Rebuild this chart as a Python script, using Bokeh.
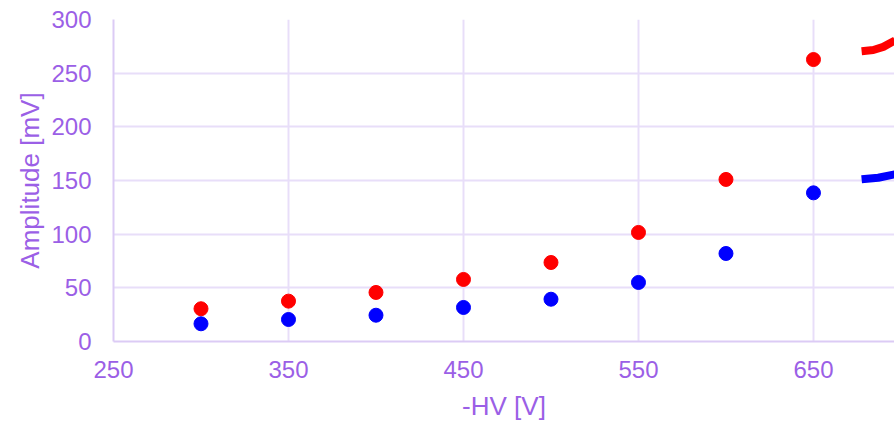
from bokeh.plotting import figure
from bokeh.embed import file_html
from bokeh.resources import INLINE
from bokeh.models import Range1d, FixedTicker

hv = [300, 350, 400, 450, 500, 550, 600, 650]
amp_red = [30.5, 37.6, 45.7, 57.8, 73.6, 101.6, 151, 262.7]
amp_blue = [16.5, 20.5, 24.5, 31.7, 39.4, 55, 82, 138.5]

fit_x_red = [677.5, 684.2, 689.9, 696.6]
fit_y_red = [270.5, 271.6, 274.5, 280.5]
fit_x_blue = [677.5, 687.0, 696.6]
fit_y_blue = [151.1, 152.6, 155.8]

x_ticks = [250, 350, 450, 550, 650]
y_ticks = [0, 50, 100, 150, 200, 250, 300]

TXT = "#9b5fe6"
GRID = "#e8def9"
AXL = "#dccbf5"
FONT = "Liberation Sans"

p = figure(width=894, height=425, output_backend="svg", toolbar_location=None,
           x_range=Range1d(250, 696.3), y_range=Range1d(0, 300),
           min_border_left=113, min_border_right=0, min_border_top=19, min_border_bottom=84)
p.outline_line_color = None
p.background_fill_color = "white"

p.line(fit_x_red, fit_y_red, line_color="#ff0000", line_width=8)
p.line(fit_x_blue, fit_y_blue, line_color="#0000ff", line_width=8)
p.scatter(hv, amp_red, size=14, color="#ff0000")
p.scatter(hv, amp_blue, size=14, color="#0000ff")

p.xaxis.ticker = FixedTicker(ticks=x_ticks)
p.yaxis.ticker = FixedTicker(ticks=y_ticks)
for ax in (p.xaxis, p.yaxis):
    ax.axis_line_color = AXL
    ax.axis_line_width = 2
    ax.major_tick_line_color = None
    ax.minor_tick_line_color = None
    ax.major_tick_out = 0
    ax.major_tick_in = 0
    ax.major_label_text_color = TXT
    ax.major_label_text_font = FONT
    ax.major_label_text_font_size = "24px"
    ax.axis_label_text_color = TXT
    ax.axis_label_text_font = FONT
    ax.axis_label_text_font_size = "26px"
    ax.axis_label_text_font_style = "normal"

p.xaxis.axis_label = "-HV [V]"
p.yaxis.axis_label = "Amplitude [mV]"
p.xaxis.major_label_standoff = 19
p.yaxis.major_label_standoff = 22
p.xaxis.axis_label_standoff = 10
p.yaxis.axis_label_standoff = 3

p.xgrid.grid_line_color = GRID
p.ygrid.grid_line_color = GRID
p.xgrid.grid_line_width = 2
p.ygrid.grid_line_width = 2

open("out.html", "w").write(file_html(p, INLINE))
